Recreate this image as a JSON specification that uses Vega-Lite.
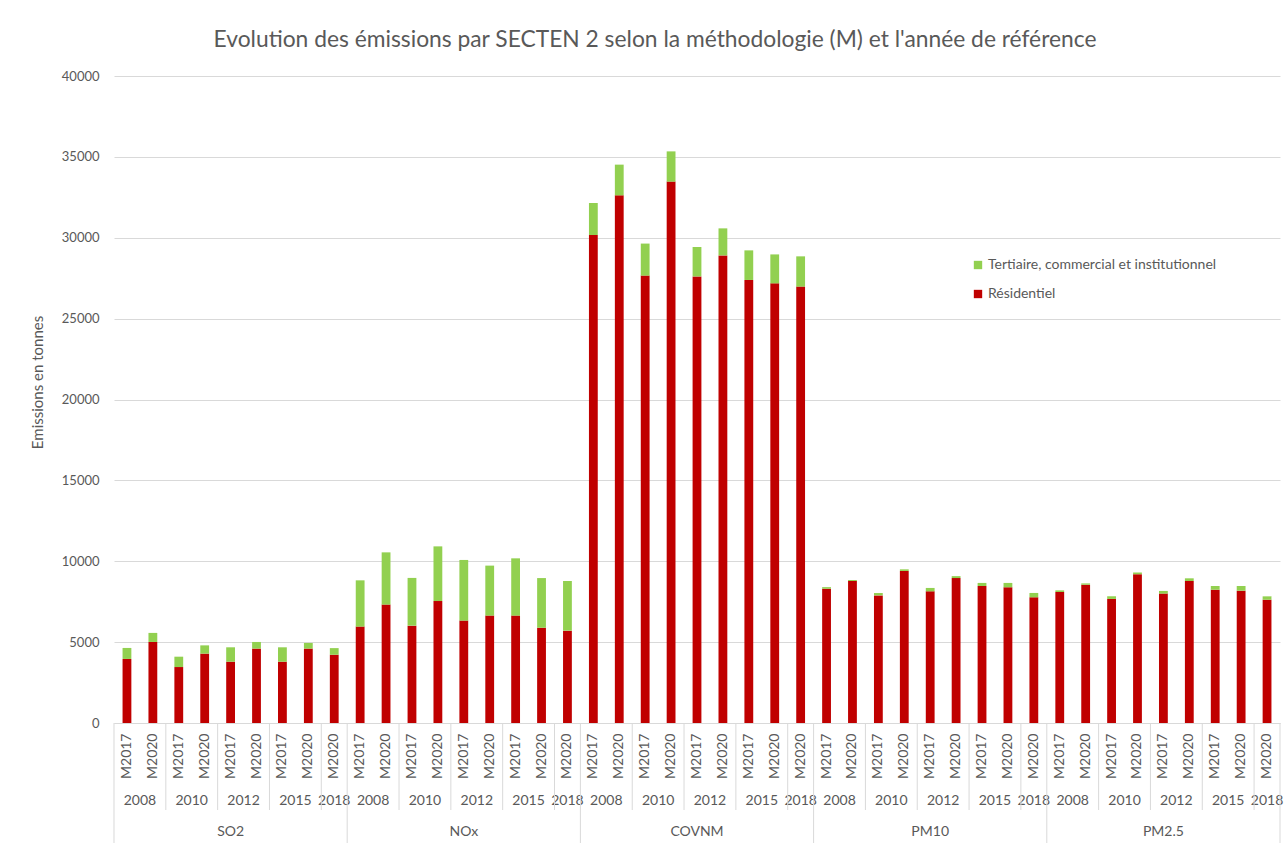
{
  "$schema": "https://vega.github.io/schema/vega-lite/v6.json",
  "autosize": {"type": "none"},
  "width": 1166,
  "height": 647,
  "padding": {"left": 114, "top": 76, "right": 6, "bottom": 121},
  "background": "white",
  "title": {
    "text": "Evolution des émissions par SECTEN 2 selon la méthodologie (M) et l'année de référence",
    "fontSize": 22.8,
    "fontWeight": "normal",
    "color": "#595959",
    "anchor": "middle",
    "dx": -42,
    "dy": 26,
    "baseline": "alphabetic",
    "offset": 26
  },
  "config": {
    "font": "Lato",
    "view": {"stroke": null},
    "axis": {"labelColor": "#595959", "titleColor": "#595959"}
  },
  "data": {
    "values": [
      {"pollutant": "SO2", "year": "2008", "method": "M2017", "bar": "SO2|2008|M2017", "Résidentiel": 3960, "Tertiaire, commercial et institutionnel": 680},
      {"pollutant": "SO2", "year": "2008", "method": "M2020", "bar": "SO2|2008|M2020", "Résidentiel": 5010, "Tertiaire, commercial et institutionnel": 560},
      {"pollutant": "SO2", "year": "2010", "method": "M2017", "bar": "SO2|2010|M2017", "Résidentiel": 3460, "Tertiaire, commercial et institutionnel": 640},
      {"pollutant": "SO2", "year": "2010", "method": "M2020", "bar": "SO2|2010|M2020", "Résidentiel": 4290, "Tertiaire, commercial et institutionnel": 510},
      {"pollutant": "SO2", "year": "2012", "method": "M2017", "bar": "SO2|2012|M2017", "Résidentiel": 3790, "Tertiaire, commercial et institutionnel": 890},
      {"pollutant": "SO2", "year": "2012", "method": "M2020", "bar": "SO2|2012|M2020", "Résidentiel": 4600, "Tertiaire, commercial et institutionnel": 410},
      {"pollutant": "SO2", "year": "2015", "method": "M2017", "bar": "SO2|2015|M2017", "Résidentiel": 3790, "Tertiaire, commercial et institutionnel": 890},
      {"pollutant": "SO2", "year": "2015", "method": "M2020", "bar": "SO2|2015|M2020", "Résidentiel": 4600, "Tertiaire, commercial et institutionnel": 350},
      {"pollutant": "SO2", "year": "2018", "method": "M2020", "bar": "SO2|2018|M2020", "Résidentiel": 4220, "Tertiaire, commercial et institutionnel": 410},
      {"pollutant": "NOx", "year": "2008", "method": "M2017", "bar": "NOx|2008|M2017", "Résidentiel": 5960, "Tertiaire, commercial et institutionnel": 2860},
      {"pollutant": "NOx", "year": "2008", "method": "M2020", "bar": "NOx|2008|M2020", "Résidentiel": 7320, "Tertiaire, commercial et institutionnel": 3230},
      {"pollutant": "NOx", "year": "2010", "method": "M2017", "bar": "NOx|2010|M2017", "Résidentiel": 6020, "Tertiaire, commercial et institutionnel": 2950},
      {"pollutant": "NOx", "year": "2010", "method": "M2020", "bar": "NOx|2010|M2020", "Résidentiel": 7540, "Tertiaire, commercial et institutionnel": 3380},
      {"pollutant": "NOx", "year": "2012", "method": "M2017", "bar": "NOx|2012|M2017", "Résidentiel": 6330, "Tertiaire, commercial et institutionnel": 3750},
      {"pollutant": "NOx", "year": "2012", "method": "M2020", "bar": "NOx|2012|M2020", "Résidentiel": 6640, "Tertiaire, commercial et institutionnel": 3090},
      {"pollutant": "NOx", "year": "2015", "method": "M2017", "bar": "NOx|2015|M2017", "Résidentiel": 6640, "Tertiaire, commercial et institutionnel": 3540},
      {"pollutant": "NOx", "year": "2015", "method": "M2020", "bar": "NOx|2015|M2020", "Résidentiel": 5890, "Tertiaire, commercial et institutionnel": 3070},
      {"pollutant": "NOx", "year": "2018", "method": "M2020", "bar": "NOx|2018|M2020", "Résidentiel": 5710, "Tertiaire, commercial et institutionnel": 3070},
      {"pollutant": "COVNM", "year": "2008", "method": "M2017", "bar": "COVNM|2008|M2017", "Résidentiel": 30170, "Tertiaire, commercial et institutionnel": 1980},
      {"pollutant": "COVNM", "year": "2008", "method": "M2020", "bar": "COVNM|2008|M2020", "Résidentiel": 32620, "Tertiaire, commercial et institutionnel": 1900},
      {"pollutant": "COVNM", "year": "2010", "method": "M2017", "bar": "COVNM|2010|M2017", "Résidentiel": 27660, "Tertiaire, commercial et institutionnel": 1980},
      {"pollutant": "COVNM", "year": "2010", "method": "M2020", "bar": "COVNM|2010|M2020", "Résidentiel": 33470, "Tertiaire, commercial et institutionnel": 1870},
      {"pollutant": "COVNM", "year": "2012", "method": "M2017", "bar": "COVNM|2012|M2017", "Résidentiel": 27610, "Tertiaire, commercial et institutionnel": 1820},
      {"pollutant": "COVNM", "year": "2012", "method": "M2020", "bar": "COVNM|2012|M2020", "Résidentiel": 28910, "Tertiaire, commercial et institutionnel": 1670},
      {"pollutant": "COVNM", "year": "2015", "method": "M2017", "bar": "COVNM|2015|M2017", "Résidentiel": 27390, "Tertiaire, commercial et institutionnel": 1830},
      {"pollutant": "COVNM", "year": "2015", "method": "M2020", "bar": "COVNM|2015|M2020", "Résidentiel": 27180, "Tertiaire, commercial et institutionnel": 1790},
      {"pollutant": "COVNM", "year": "2018", "method": "M2020", "bar": "COVNM|2018|M2020", "Résidentiel": 26980, "Tertiaire, commercial et institutionnel": 1870},
      {"pollutant": "PM10", "year": "2008", "method": "M2017", "bar": "PM10|2008|M2017", "Résidentiel": 8300, "Tertiaire, commercial et institutionnel": 100},
      {"pollutant": "PM10", "year": "2008", "method": "M2020", "bar": "PM10|2008|M2020", "Résidentiel": 8780, "Tertiaire, commercial et institutionnel": 60},
      {"pollutant": "PM10", "year": "2010", "method": "M2017", "bar": "PM10|2010|M2017", "Résidentiel": 7890, "Tertiaire, commercial et institutionnel": 145},
      {"pollutant": "PM10", "year": "2010", "method": "M2020", "bar": "PM10|2010|M2020", "Résidentiel": 9400, "Tertiaire, commercial et institutionnel": 100},
      {"pollutant": "PM10", "year": "2012", "method": "M2017", "bar": "PM10|2012|M2017", "Résidentiel": 8140, "Tertiaire, commercial et institutionnel": 210},
      {"pollutant": "PM10", "year": "2012", "method": "M2020", "bar": "PM10|2012|M2020", "Résidentiel": 8960, "Tertiaire, commercial et institutionnel": 120},
      {"pollutant": "PM10", "year": "2015", "method": "M2017", "bar": "PM10|2015|M2017", "Résidentiel": 8470, "Tertiaire, commercial et institutionnel": 190},
      {"pollutant": "PM10", "year": "2015", "method": "M2020", "bar": "PM10|2015|M2020", "Résidentiel": 8390, "Tertiaire, commercial et institutionnel": 270},
      {"pollutant": "PM10", "year": "2018", "method": "M2020", "bar": "PM10|2018|M2020", "Résidentiel": 7770, "Tertiaire, commercial et institutionnel": 270},
      {"pollutant": "PM2.5", "year": "2008", "method": "M2017", "bar": "PM2.5|2008|M2017", "Résidentiel": 8100, "Tertiaire, commercial et institutionnel": 100},
      {"pollutant": "PM2.5", "year": "2008", "method": "M2020", "bar": "PM2.5|2008|M2020", "Résidentiel": 8550, "Tertiaire, commercial et institutionnel": 80},
      {"pollutant": "PM2.5", "year": "2010", "method": "M2017", "bar": "PM2.5|2010|M2017", "Résidentiel": 7670, "Tertiaire, commercial et institutionnel": 165},
      {"pollutant": "PM2.5", "year": "2010", "method": "M2020", "bar": "PM2.5|2010|M2020", "Résidentiel": 9190, "Tertiaire, commercial et institutionnel": 120},
      {"pollutant": "PM2.5", "year": "2012", "method": "M2017", "bar": "PM2.5|2012|M2017", "Résidentiel": 8000, "Tertiaire, commercial et institutionnel": 165},
      {"pollutant": "PM2.5", "year": "2012", "method": "M2020", "bar": "PM2.5|2012|M2020", "Résidentiel": 8780, "Tertiaire, commercial et institutionnel": 165},
      {"pollutant": "PM2.5", "year": "2015", "method": "M2017", "bar": "PM2.5|2015|M2017", "Résidentiel": 8240, "Tertiaire, commercial et institutionnel": 230},
      {"pollutant": "PM2.5", "year": "2015", "method": "M2020", "bar": "PM2.5|2015|M2020", "Résidentiel": 8180, "Tertiaire, commercial et institutionnel": 290},
      {"pollutant": "PM2.5", "year": "2018", "method": "M2020", "bar": "PM2.5|2018|M2020", "Résidentiel": 7620, "Tertiaire, commercial et institutionnel": 210}
    ]
  },
  "encoding": {
    "x": {
      "field": "bar",
      "type": "ordinal",
      "scale": {
        "paddingInner": 0.66,
        "paddingOuter": 0.33,
        "domain": [
          "SO2|2008|M2017", "SO2|2008|M2020", "SO2|2010|M2017", "SO2|2010|M2020", "SO2|2012|M2017", "SO2|2012|M2020", "SO2|2015|M2017", "SO2|2015|M2020", "SO2|2018|M2020",
          "NOx|2008|M2017", "NOx|2008|M2020", "NOx|2010|M2017", "NOx|2010|M2020", "NOx|2012|M2017", "NOx|2012|M2020", "NOx|2015|M2017", "NOx|2015|M2020", "NOx|2018|M2020",
          "COVNM|2008|M2017", "COVNM|2008|M2020", "COVNM|2010|M2017", "COVNM|2010|M2020", "COVNM|2012|M2017", "COVNM|2012|M2020", "COVNM|2015|M2017", "COVNM|2015|M2020", "COVNM|2018|M2020",
          "PM10|2008|M2017", "PM10|2008|M2020", "PM10|2010|M2017", "PM10|2010|M2020", "PM10|2012|M2017", "PM10|2012|M2020", "PM10|2015|M2017", "PM10|2015|M2020", "PM10|2018|M2020",
          "PM2.5|2008|M2017", "PM2.5|2008|M2020", "PM2.5|2010|M2017", "PM2.5|2010|M2020", "PM2.5|2012|M2017", "PM2.5|2012|M2020", "PM2.5|2015|M2017", "PM2.5|2015|M2020", "PM2.5|2018|M2020"
        ]
      },
      "axis": {
        "title": null,
        "labelExpr": "split(datum.value, '|')[2]",
        "labelAngle": -90,
        "labelFontSize": 14,
        "labelPadding": 10,
        "labelLimit": 0,
        "labelOverlap": false,
        "ticks": false,
        "tickSize": 0,
        "domain": true,
        "domainColor": "#D9D9D9",
        "grid": false
      }
    }
  },
  "layer": [
    {
      "transform": [
        {"fold": ["Résidentiel", "Tertiaire, commercial et institutionnel"], "as": ["sector", "value"]}
      ],
      "mark": {"type": "bar"},
      "encoding": {
        "y": {
          "field": "value",
          "type": "quantitative",
          "stack": "zero",
          "scale": {"domain": [0, 40000], "nice": false},
          "axis": {
            "title": "Emissions en tonnes",
            "titleFontSize": 15,
            "titleFontWeight": "normal",
            "titleX": -77,
            "titleY": 306,
            "titleAngle": -90,
            "titleAlign": "center",
            "titleBaseline": "middle",
            "values": [0, 5000, 10000, 15000, 20000, 25000, 30000, 35000, 40000],
            "format": "d",
            "labelFontSize": 13,
            "labelPadding": 15,
            "ticks": false,
            "tickSize": 0,
            "domain": false,
            "grid": true,
            "gridColor": "#D9D9D9",
            "gridWidth": 1
          }
        },
        "color": {
          "field": "sector",
          "type": "nominal",
          "scale": {
            "domain": ["Tertiaire, commercial et institutionnel", "Résidentiel"],
            "range": ["#92D050", "#C00000"]
          },
          "legend": {
            "title": null,
            "orient": "none",
            "legendX": 857,
            "legendY": 182,
            "direction": "vertical",
            "symbolType": "square",
            "symbolSize": 70,
            "symbolStrokeWidth": 0,
            "labelFontSize": 14,
            "labelLimit": 0,
            "labelColor": "#595959",
            "rowPadding": 15,
            "labelOffset": 3
          }
        },
        "order": {"field": "sector", "sort": "ascending"}
      }
    },
    {
      "transform": [{"filter": "datum.method == 'M2017'"}],
      "mark": {"type": "text", "fontSize": 14, "color": "#595959", "dx": 12.956, "dy": 78, "baseline": "middle", "align": "center"},
      "encoding": {"y": {"datum": 0}, "text": {"field": "year"}}
    },
    {
      "transform": [{"filter": "datum.year == '2018'"}],
      "mark": {"type": "text", "fontSize": 14, "color": "#595959", "dy": 78, "baseline": "middle", "align": "center"},
      "encoding": {"y": {"datum": 0}, "text": {"field": "year"}}
    },
    {
      "transform": [{"filter": "datum.year == '2012' && datum.method == 'M2017'"}],
      "mark": {"type": "text", "fontSize": 14, "color": "#595959", "dy": 109, "baseline": "middle", "align": "center"},
      "encoding": {"y": {"datum": 0}, "text": {"field": "pollutant"}}
    },
    {
      "transform": [{"filter": "(datum.method == 'M2017' && datum.year != '2008') || datum.year == '2018'"}],
      "mark": {"type": "rule", "color": "#D9D9D9", "strokeWidth": 1, "xOffset": -12.956, "x2Offset": -12.956, "y2Offset": 87},
      "encoding": {"y": {"datum": 0}, "y2": {"datum": 0}}
    },
    {
      "transform": [{"filter": "datum.year == '2008' && datum.method == 'M2017'"}],
      "mark": {"type": "rule", "color": "#D9D9D9", "strokeWidth": 1, "xOffset": -12.956, "x2Offset": -12.956, "y2Offset": 120},
      "encoding": {"y": {"datum": 0}, "y2": {"datum": 0}}
    },
    {
      "transform": [{"filter": "datum.bar == 'PM2.5|2018|M2020'"}],
      "mark": {"type": "rule", "color": "#D9D9D9", "strokeWidth": 1, "xOffset": 12.956, "x2Offset": 12.956, "y2Offset": 120},
      "encoding": {"y": {"datum": 0}, "y2": {"datum": 0}}
    }
  ]
}
